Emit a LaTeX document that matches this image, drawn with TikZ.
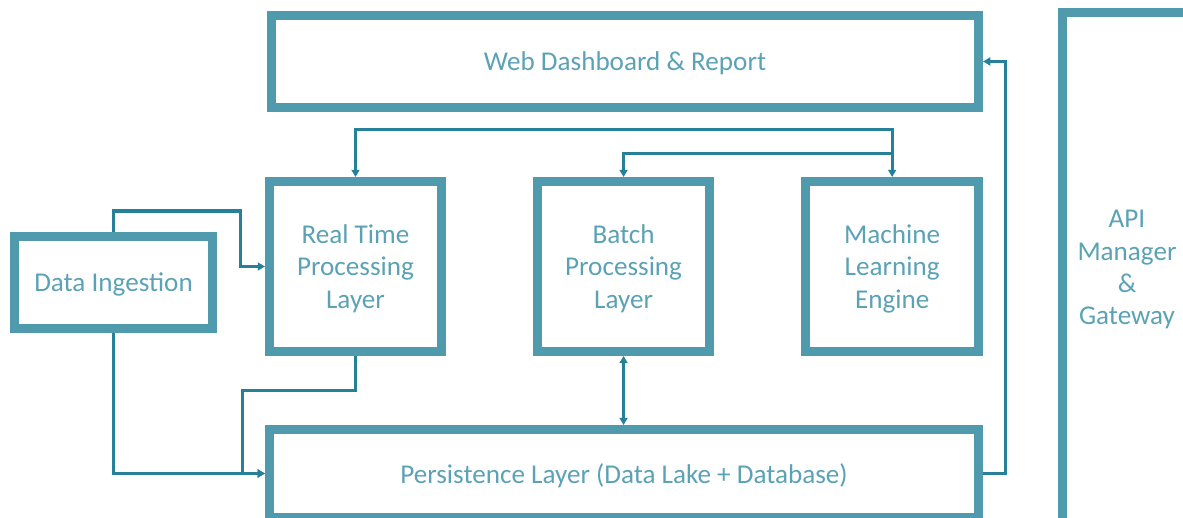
\documentclass[tikz,border=0pt]{standalone}
\usepackage{fontspec}
\setmainfont{Carlito}
\usepackage{tikz}
\usetikzlibrary{positioning,arrows.meta}
\definecolor{boxline}{RGB}{80,154,174}
\definecolor{flowline}{RGB}{38,128,152}
\definecolor{boxtext}{RGB}{92,162,182}

\begin{document}
\begin{tikzpicture}[x=0.025cm,y=-0.025cm,node distance=2.175cm,
  layer/.style={draw=boxline,line width=0.225cm,fill=white,text=boxtext,
    align=center,inner sep=0pt,text depth=0pt,font=\fontsize{19.3}{23}\selectfont},
  flow/.style={draw=flowline,line width=0.075cm},
  >={Triangle[length=0.18cm,width=0.2cm]}]
  \clip (0,0) rectangle (1183,518);
  \node[layer,minimum width=4.3cm,minimum height=4.25cm] (RT) at (355.5,266.5) {Real Time\\Processing\\Layer};
  \node[layer,minimum width=4.3cm,minimum height=4.25cm] (BP) [right=of RT] {Batch\\Processing\\Layer};
  \node[layer,minimum width=4.325cm,minimum height=4.25cm] (ML) [right=of BP] {Machine\\Learning\\Engine};
  \node[layer,minimum width=17.675cm,minimum height=2.3cm] (WD) at (625,61.5) {Web Dashboard \& Report};
  \node[layer,minimum width=17.725cm,minimum height=2.2cm] (PL) at (624,473.5) {Persistence Layer (Data Lake + Database)};
  \node[layer,minimum width=4.95cm,minimum height=2.3cm] (DI) at (113.5,282.5) {Data Ingestion};
  \node[layer,minimum width=3.225cm,minimum height=12.75cm] (API) at (1127,267.5) {API\\Manager\\\&\\Gateway};
  % ingestion
  \draw[flow,->] (DI.north) |- (240,211) |- (RT.west);
  \draw[flow,->] (DI.south) |- (PL.west);
  \draw[flow,->] (RT.south) |- (242,390) |- (PL.west);
  % processing
  \draw[flow,<->] (RT.north) |- (ML.north |- 0,130) -- (ML.north);
  \draw[flow,->] (ML.north |- 0,154) -| (BP.north);
  \draw[flow,<->] (BP.south) -- (BP.south |- PL.north);
  % output
  \draw[flow,->] (PL.east) -- ++(22,0) |- (WD.east);
\end{tikzpicture}
\end{document}
